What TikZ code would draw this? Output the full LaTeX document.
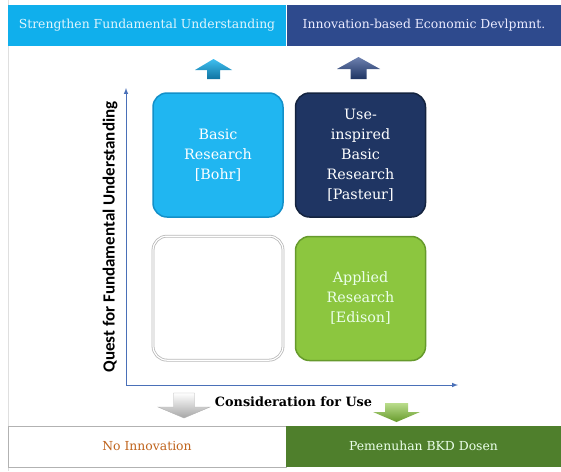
\documentclass[tikz,border=0pt]{standalone}
\usepackage{fontspec}
\setmainfont{DejaVu Serif}
\newfontfamily\questfont{Carlito}
\usetikzlibrary{positioning}
\definecolor{TopLight}{HTML}{10AFEC}
\definecolor{TopDark}{HTML}{2E4A8D}
\definecolor{BoxLight}{HTML}{20B6F1}
\definecolor{BoxLightDk}{HTML}{1390C9}
\definecolor{BoxNavy}{HTML}{1F3563}
\definecolor{BoxNavyDk}{HTML}{14233F}
\definecolor{BoxGreen}{HTML}{8CC63F}
\definecolor{BoxGreenDk}{HTML}{669A2C}
\definecolor{BarGreen}{HTML}{4F7F2C}
\definecolor{AxisBlue}{HTML}{4A70B8}
\definecolor{NoInnov}{HTML}{C0651E}

\begin{document}
\begin{tikzpicture}[x=1pt, y=-1pt, every node/.style={inner sep=0pt},
	bar/.style={minimum height=41pt, font=\fontsize{12.4}{14}\selectfont},
	quad/.style={rounded corners=14pt, minimum width=130pt, minimum height=124pt,
		align=center, line width=1.5pt, text=white, font=\fontsize{14.3}{20}\selectfont}]
	\useasboundingbox (0,0) rectangle (561,471);
	
	\draw[gray!25] (8,0) -- (8,471);
	
	% top bar
	\node[bar, fill=TopLight, minimum width=278pt, text=white!88!cyan] (strength) at (147,25.5) {Strengthen Fundamental Understanding};
	\node[bar, fill=TopDark, minimum width=274pt, text=white!92!blue] (innov) at (424,25.5) {Innovation-based Economic Devlpmnt.};
	
	% up arrows
	\shade[top color=TopLight!80!white, bottom color=BoxLightDk!80!black] (213.5,59) -- (232,70) -- (220,70) -- (220,79) -- (207,79) -- (207,70) -- (195,70) -- cycle;
	\shade[top color=TopDark!70!white, bottom color=BoxNavy] (358.5,57) -- (380,69) -- (366.5,69) -- (366.5,79) -- (350.5,79) -- (350.5,69) -- (337,69) -- cycle;
	
	% quadrants
	\node[quad, fill=BoxLight, draw=BoxLightDk] (basic) at (218,155) {Basic\\Research\\{[Bohr]}};
	\node[quad, fill=BoxNavy, draw=BoxNavyDk, right=11pt of basic] (pasteur) {Use-\\inspired\\Basic\\Research\\{[Pasteur]}};
	\node[quad, fill=white, draw=gray!55, line width=0.8pt, double=white, double distance=1.2pt, below=18pt of basic] (blank) {};
	\node[quad, fill=BoxGreen, draw=BoxGreenDk, text=white!92!green, below=18pt of pasteur] (edison) {Applied\\Research\\{[Edison]}};
	
	% axes
	\coordinate (origin) at (126,385);
	\coordinate (ytop) at (126,88);
	\coordinate (xend) at (458,385);
	\draw[AxisBlue, line width=1pt, -latex] (origin) -- (ytop);
	\draw[AxisBlue, line width=1pt, -latex] (origin) -- (xend);
	
	\node[rotate=90, font=\questfont\bfseries\fontsize{17}{20}\selectfont] (quest) at (110,237) {Quest for Fundamental Understanding};
	\node[font=\bfseries\fontsize{12.8}{15}\selectfont] (consid) at (293.5,402) {Consideration for Use};
	
	% down arrows
	\shade[top color=white, bottom color=gray!70, draw=gray!60] (173.5,393) -- (194.5,393) -- (194.5,407) -- (210,407) -- (184,418) -- (158,407) -- (173.5,407) -- cycle;
	\shade[top color=BoxGreen!60!white, bottom color=BoxGreenDk] (385,403) -- (408,403) -- (408,412) -- (420,412) -- (396.5,422) -- (373,412) -- (385,412) -- cycle;
	
	% bottom bar
	\node[bar, fill=white, draw=gray!60, minimum width=278pt, text=NoInnov] (noinnov) at (147,446.5) {No Innovation};
	\node[bar, fill=BarGreen, minimum width=275pt, text=white!92!green] (bkd) at (423.5,446) {Pemenuhan BKD Dosen};
\end{tikzpicture}
\end{document}
